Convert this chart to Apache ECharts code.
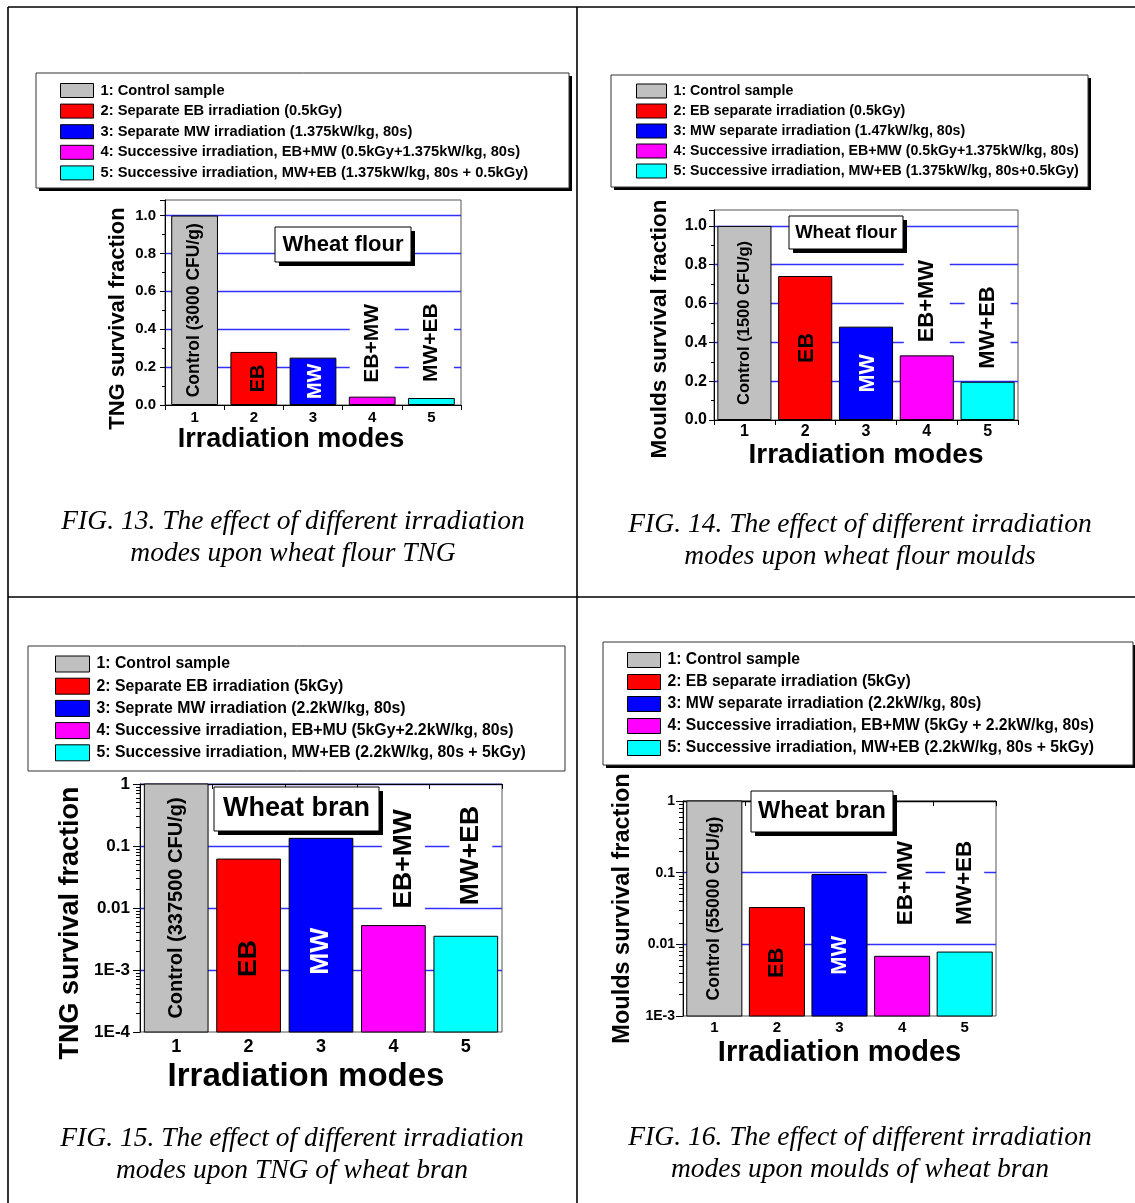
<!DOCTYPE html>
<html><head><meta charset="utf-8">
<script src="https://cdn.jsdelivr.net/npm/echarts@6/dist/echarts.min.js"></script>
<style>html,body{margin:0;padding:0;background:#fff}#c{width:1135px;height:1203px}</style>
</head><body><div id="c"></div>
<script>
// ---------- DATA ----------
const categories = ['1', '2', '3', '4', '5'];
const barColors = ['#c0c0c0', '#ff0000', '#0000ff', '#ff00ff', '#00ffff'];

const legend13 = ['1: Control sample', '2: Separate EB irradiation (0.5kGy)', '3: Separate MW irradiation (1.375kW/kg, 80s)', '4: Successive irradiation, EB+MW (0.5kGy+1.375kW/kg, 80s)', '5: Successive irradiation, MW+EB (1.375kW/kg, 80s + 0.5kGy)'];
const legend14 = ['1: Control sample', '2: EB separate irradiation (0.5kGy)', '3: MW separate irradiation (1.47kW/kg, 80s)', '4: Successive irradiation, EB+MW (0.5kGy+1.375kW/kg, 80s)', '5: Successive irradiation, MW+EB (1.375kW/kg, 80s+0.5kGy)'];
const legend15 = ['1: Control sample', '2: Separate EB irradiation (5kGy)', '3: Seprate MW irradiation (2.2kW/kg, 80s)', '4: Successive irradiation, EB+MU (5kGy+2.2kW/kg, 80s)', '5: Successive irradiation, MW+EB (2.2kW/kg, 80s + 5kGy)'];
const legend16 = ['1: Control sample', '2: EB separate irradiation (5kGy)', '3: MW separate irradiation (2.2kW/kg, 80s)', '4: Successive irradiation, EB+MW (5kGy + 2.2kW/kg, 80s)', '5: Successive irradiation, MW+EB (2.2kW/kg, 80s + 5kGy)'];

const values13 = [1.0, 0.28, 0.25, 0.044, 0.037];
const values14 = [1.0, 0.742, 0.481, 0.333, 0.197];
const values15 = [1.0, 0.0615, 0.133, 0.0052, 0.0035];
const values16 = [1.0, 0.0326, 0.094, 0.0068, 0.0078];

const barText13 = ['Control (3000 CFU/g)', 'EB', 'MW', 'EB+MW', 'MW+EB'];
const barText14 = ['Control (1500 CFU/g)', 'EB', 'MW', 'EB+MW', 'MW+EB'];
const barText15 = ['Control (337500 CFU/g)', 'EB', 'MW', 'EB+MW', 'MW+EB'];
const barText16 = ['Control (55000 CFU/g)', 'EB', 'MW', 'EB+MW', 'MW+EB'];

const linearTickLabels = ['0.0', '0.2', '0.4', '0.6', '0.8', '1.0'];
const logTickLabels15 = ['1E-4', '1E-3', '0.01', '0.1', '1'];
const logTickLabels16 = ['1E-3', '0.01', '0.1', '1'];

const yNames = ['TNG survival fraction', 'Moulds survival fraction', 'TNG survival fraction', 'Moulds survival fraction'];
const xName = 'Irradiation modes';
const boxTitles = ['Wheat flour', 'Wheat flour', 'Wheat bran', 'Wheat bran'];
const captions = [
  'FIG. 13. The effect of different irradiation\nmodes upon wheat flour TNG',
  'FIG. 14. The effect of different irradiation\nmodes upon wheat flour moulds',
  'FIG. 15. The effect of different irradiation\nmodes upon TNG of wheat bran',
  'FIG. 16. The effect of different irradiation\nmodes upon moulds of wheat bran'
];

// ---------- LAYOUT / STYLE ----------
const FONT = '"Liberation Sans", Arial, Helvetica, sans-serif';
const BLUE = '#3030ff';
const CLEAR = 'rgba(0,0,0,0)';

const panels = [
  { names: legend13, values: values13, texts: barText13, type: 'value', max: 1.082, ticks: linearTickLabels,
    grid: { left: 165, top: 200, width: 296, height: 205 }, gap: 0.21,
    yLabelSize: 15, yLabelMargin: 9, xLabelSize: 15, xLabelMargin: 5,
    yNameSize: 22, yNameGap: 36, yNameShift: 16, xNameSize: 27, xNameGap: 17, xNameShift: 22,
    ctrlSize: 17.5, ebSize: 20, topSize: 21, topDist: [10, 14], topOffset: [2, 0], inShift: [0, 5, 2],
    legend: { left: 60, top: 82.5, itemWidth: 33, itemHeight: 14, itemGap: 4.6, fontSize: 14.7, lineHeight: 16 },
    box: [36, 73, 533, 115, 3], title: [275, 227, 136, 35, 22], caption: [293, 538] },
  { names: legend14, values: values14, texts: barText14, type: 'value', max: 1.082, ticks: linearTickLabels,
    grid: { left: 714, top: 210, width: 304, height: 210 }, gap: 0.11,
    yLabelSize: 16, yLabelMargin: 7, xLabelSize: 16, xLabelMargin: 4,
    yNameSize: 22.5, yNameGap: 43, yNameShift: 14, xNameSize: 28, xNameGap: 20, xNameShift: 0,
    ctrlSize: 16.5, ebSize: 21.5, topSize: 22, topDist: [11, 11], topOffset: [0, 0], inShift: [0, 2, 2],
    legend: { left: 636, top: 83, itemWidth: 30, itemHeight: 14, itemGap: 4, fontSize: 14.2, lineHeight: 16 },
    box: [611, 75, 477, 112, 3], title: [789, 216, 114, 33, 18.5], caption: [860, 541] },
  { names: legend15, values: values15, texts: barText15, type: 'log', min: 1e-4, max: 1, ticks: logTickLabels15,
    grid: { left: 140, top: 784, width: 362, height: 248 }, gap: 0.12,
    yLabelSize: 17, yLabelMargin: 10, xLabelSize: 18, xLabelMargin: 6,
    yNameSize: 27, yNameGap: 56, yNameShift: 15, xNameSize: 33, xNameGap: 28, xNameShift: 15,
    ctrlSize: 20, ebSize: 26.5, topSize: 26.5, topDist: [15, 29], topOffset: [10, 5], inShift: [0, 13, 16],
    legend: { left: 55, top: 655.5, itemWidth: 34, itemHeight: 16, itemGap: 5.2, fontSize: 15.8, lineHeight: 17 },
    box: [28, 646, 537, 125, 0], title: [214, 787, 165, 44, 27], caption: [292, 1155] },
  { names: legend16, values: values16, texts: barText16, type: 'log', min: 1e-3, max: 1, ticks: logTickLabels16,
    grid: { left: 683, top: 801, width: 313, height: 215 }, gap: 0.12,
    yLabelSize: 14, yLabelMargin: 8, xLabelSize: 15, xLabelMargin: 4,
    yNameSize: 23.5, yNameGap: 48, yNameShift: 0, xNameSize: 29, xNameGap: 22, xNameShift: 0,
    ctrlSize: 17.5, ebSize: 22, topSize: 22.5, topDist: [29, 25], topOffset: [4, 0], inShift: [0, 1, 10],
    legend: { left: 627, top: 651.5, itemWidth: 33, itemHeight: 15, itemGap: 5, fontSize: 15.7, lineHeight: 17 },
    box: [603, 642, 530, 123, 3], title: [751, 791, 142, 41, 23.5], caption: [860, 1154] }
];

// ---------- BUILD OPTION ----------
const grids = [], xAxes = [], yAxes = [], series = [], legends = [], graphics = [];

panels.forEach((p, k) => {
  grids.push(Object.assign({ show: true, borderColor: '#555', borderWidth: 1, containLabel: false }, p.grid));

  xAxes.push({
    type: 'category', gridIndex: k, data: categories,
    axisLine: { lineStyle: { color: '#000', width: 1 } },
    axisTick: { show: true, length: 5, lineStyle: { color: '#000' } },
    axisLabel: { color: '#000', fontWeight: 'bold', fontSize: p.xLabelSize, margin: p.xLabelMargin, fontFamily: FONT },
    name: xName, nameLocation: 'middle', nameGap: p.xNameGap,
    nameTextStyle: { color: '#000', fontWeight: 'bold', fontSize: p.xNameSize, fontFamily: FONT, padding: [0, 2 * p.xNameShift, 0, 0] }
  });

  const nameStyle = { color: '#000', fontWeight: 'bold', fontSize: p.yNameSize, fontFamily: FONT, padding: [0, 2 * p.yNameShift, 0, 0] };
  const mainIndex = yAxes.length;
  if (p.type === 'value') {
    yAxes.push({
      type: 'value', gridIndex: k, min: 0, max: p.max, interval: 0.2,
      axisLine: { show: true, lineStyle: { color: '#000' } },
      axisTick: { show: true, length: 5, lineStyle: { color: '#000' } },
      minorTick: { show: true, splitNumber: 2, length: 3, lineStyle: { color: '#000' } },
      axisLabel: {
        color: '#000', fontWeight: 'bold', fontSize: p.yLabelSize, margin: p.yLabelMargin, fontFamily: FONT,
        formatter: v => { const i = Math.round(v / 0.2); return (Math.abs(v - i * 0.2) < 1e-6 && i < p.ticks.length) ? p.ticks[i] : ''; }
      },
      splitLine: { show: true, lineStyle: { color: [CLEAR, BLUE, BLUE, BLUE, BLUE, BLUE, CLEAR], width: 1.3 } },
      name: yNames[k], nameLocation: 'middle', nameGap: p.yNameGap, nameTextStyle: nameStyle
    });
  } else {
    const lo = Math.round(Math.log10(p.min));
    const splitColors = [CLEAR];
    for (let i = 1; i < p.ticks.length; i++) splitColors.push(i === p.ticks.length - 1 && k === 3 ? '#000' : BLUE);
    yAxes.push({
      type: 'log', logBase: 10, gridIndex: k, min: p.min, max: p.max,
      axisLine: { show: true, lineStyle: { color: '#000' } },
      axisTick: { show: true, length: 7, lineStyle: { color: '#000' } },
      axisLabel: {
        color: '#000', fontWeight: 'bold', fontSize: p.yLabelSize, margin: p.yLabelMargin, fontFamily: FONT,
        formatter: v => { const i = Math.round(Math.log10(v)) - lo; return p.ticks[i] !== undefined ? p.ticks[i] : ''; }
      },
      splitLine: { show: true, lineStyle: { color: splitColors, width: 1.3 } },
      name: yNames[k], nameLocation: 'middle', nameGap: p.yNameGap, nameTextStyle: nameStyle
    });
    // minor ticks at 2..9 of each decade: helper axis in exponent space
    const minors = [];
    for (let d = lo; d < 0; d++) for (let m = 2; m <= 9; m++) minors.push(d + Math.log10(m));
    yAxes.push({
      type: 'value', gridIndex: k, min: lo, max: 0, position: 'left', offset: 0,
      axisLine: { show: false }, axisLabel: { show: false }, splitLine: { show: false },
      axisTick: { show: true, length: 4, customValues: minors, lineStyle: { color: '#000', width: 1 } }
    });
  }

  p.values.forEach((v, i) => {
    const font = 'bold ' + (i === 0 ? p.ctrlSize : (i < 3 ? p.ebSize : p.topSize)) + 'px ' + FONT;
    if (p.type === 'value') {
      let label;
      if (i < 3) {
        label = { show: true, position: 'inside', rotate: 90, formatter: p.texts[i], offset: [0, p.inShift[i]],
          fontSize: i === 0 ? p.ctrlSize : p.ebSize, fontWeight: 'bold', fontFamily: FONT,
          color: i === 2 ? '#fff' : '#000' };
      } else {
        label = { show: true, position: 'top', rotate: 90, align: 'left', verticalAlign: 'middle',
          distance: p.topDist[i - 3], offset: [p.topOffset[i - 3], 0], formatter: p.texts[i],
          fontSize: p.topSize, fontWeight: 'bold', fontFamily: FONT, color: '#000',
          backgroundColor: '#fff', padding: [12, 2, 12, 2] };
      }
      series.push({
        type: 'bar', name: p.names[i], xAxisIndex: k, yAxisIndex: mainIndex,
        barGap: '-100%', barCategoryGap: (p.gap * 100) + '%',
        itemStyle: { color: barColors[i], borderColor: '#000', borderWidth: 1 },
        emphasis: { disabled: true }, label: label,
        data: categories.map((c, j) => j === i ? v : '-')
      });
    } else {
      // log axis: bars must rise from the axis minimum, so draw them with a custom series
      series.push({
        type: 'custom', name: p.names[i], xAxisIndex: k, yAxisIndex: mainIndex,
        itemStyle: { color: barColors[i], borderColor: '#000', borderWidth: 1 },
        encode: { x: 0, y: 1 },
        data: [[categories[i], v]],
        renderItem: (params, api) => {
          const cs = params.coordSys;
          const idx = api.value(0), val = api.value(1);
          const top = api.coord([idx, val]);
          const bot = api.coord([idx, p.min]);
          const bw = cs.width / categories.length * (1 - p.gap);
          const children = [{
            type: 'rect', shape: { x: top[0] - bw / 2, y: top[1], width: bw, height: bot[1] - top[1] },
            style: { fill: barColors[i], stroke: '#000', lineWidth: 1 }
          }];
          if (i < 3) {
            children.push({ type: 'text', x: top[0], y: (top[1] + bot[1]) / 2 + p.inShift[i], rotation: Math.PI / 2, z2: 10,
              style: { text: p.texts[i], align: 'center', verticalAlign: 'middle', font: font, fill: i === 2 ? '#fff' : '#000' } });
          } else {
            children.push({ type: 'text', x: top[0] + p.topOffset[i - 3], y: top[1] - p.topDist[i - 3], rotation: Math.PI / 2, z2: 10,
              style: { text: p.texts[i], align: 'left', verticalAlign: 'middle', font: font, fill: '#000',
                backgroundColor: '#fff', padding: [8, 2, 8, 2] } });
          }
          return { type: 'group', children: children };
        }
      });
    }
  });

  const L = p.legend;
  legends.push({
    orient: 'vertical', left: L.left, top: L.top, padding: 0, icon: 'rect',
    itemWidth: L.itemWidth, itemHeight: L.itemHeight, itemGap: L.itemGap, selectedMode: false,
    data: p.names,
    itemStyle: { borderColor: '#000', borderWidth: 1 },
    textStyle: { color: '#000', fontWeight: 'bold', fontSize: L.fontSize, lineHeight: L.lineHeight, fontFamily: FONT, padding: [0, 0, 0, 2] }
  });

  const b = p.box;
  if (b[4]) graphics.push({ type: 'rect', z: -2, shape: { x: b[0] + b[4], y: b[1] + b[4], width: b[2], height: b[3] }, style: { fill: '#000' } });
  graphics.push({ type: 'rect', z: -1, shape: { x: b[0], y: b[1], width: b[2], height: b[3] }, style: { fill: '#fff', stroke: '#333', lineWidth: 1 } });

  const t = p.title;
  graphics.push({ type: 'rect', z: 50, shape: { x: t[0] + 4, y: t[1] + 4, width: t[2], height: t[3] }, style: { fill: '#000' } });
  graphics.push({ type: 'rect', z: 51, shape: { x: t[0], y: t[1], width: t[2], height: t[3] }, style: { fill: '#fff', stroke: '#000', lineWidth: 1 } });
  graphics.push({ type: 'text', z: 52, style: { text: boxTitles[k], x: t[0] + t[2] / 2, y: t[1] + t[3] / 2, align: 'center', verticalAlign: 'middle', font: 'bold ' + t[4] + 'px ' + FONT, fill: '#000' } });

  graphics.push({ type: 'text', z: 5, style: { text: captions[k], x: p.caption[0], y: p.caption[1], align: 'center', verticalAlign: 'middle', font: 'italic 27.5px "Liberation Serif", "Times New Roman", serif', lineHeight: 32, fill: '#000' } });
});

[[8, 7, 1135, 7], [8, 7, 8, 1203], [577, 7, 577, 1203], [8, 597, 1135, 597]].forEach(s => {
  graphics.push({ type: 'line', z: 1, shape: { x1: s[0], y1: s[1], x2: s[2], y2: s[3] }, style: { stroke: '#000', lineWidth: 1.6 } });
});

const option = {
  animation: false,
  backgroundColor: '#fff',
  textStyle: { fontFamily: FONT },
  grid: grids, xAxis: xAxes, yAxis: yAxes, legend: legends, series: series,
  graphic: { elements: graphics }
};
const chart = echarts.init(document.getElementById('c'), null, { renderer: 'canvas' });
chart.setOption(option);
</script></body></html>
